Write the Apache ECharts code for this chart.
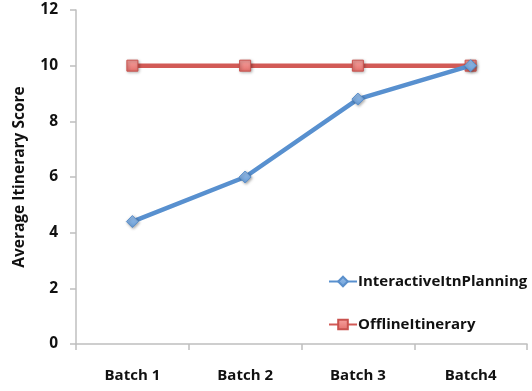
<!DOCTYPE html>
<html>
<head>
<meta charset="utf-8">
<script src="https://cdn.jsdelivr.net/npm/echarts@6/dist/echarts.min.js"></script>
<style>
  html, body { margin: 0; padding: 0; background: #fff; }
  #chart { width: 532px; height: 391px; }
</style>
</head>
<body>
<div id="chart"></div>
<script>
// Batches along the x axis
const categories = ['Batch 1', 'Batch 2', 'Batch 3', 'Batch4'];
// Average itinerary scores per batch
const interactiveScores = [4.4, 6.0, 8.8, 10.0];
const offlineScores = [10, 10, 10, 10];
// Value axis range
const yMin = 0, yMax = 12, yStep = 2;

const FONT = '"Open Sans", "DejaVu Sans", sans-serif';
const axisGray = '#bfbfbf';
const blue = '#5890cf';
const red = '#d25a56';

const chart = echarts.init(document.getElementById('chart'), null, { renderer: 'canvas' });

const markerShadow = {
  shadowBlur: 3,
  shadowColor: 'rgba(0,0,0,0.35)',
  shadowOffsetX: 1,
  shadowOffsetY: 1
};

chart.setOption({
  animation: false,
  backgroundColor: '#fff',
  grid: { left: 76, right: 5, top: 10, bottom: 47, containLabel: false },
  legend: {
    orient: 'vertical',
    left: 323,
    top: 269,
    itemWidth: 28,
    itemHeight: 12,
    itemGap: 28,
    textStyle: { fontFamily: FONT, fontWeight: 'bold', fontSize: 15, color: '#111', padding: [0, 0, 0, -4] },
    data: ['InteractiveItnPlanning', 'OfflineItinerary']
  },
  xAxis: {
    type: 'category',
    data: categories,
    boundaryGap: true,
    axisLine: { lineStyle: { color: axisGray, width: 1.5 } },
    axisTick: { show: true, length: 6, lineStyle: { color: axisGray, width: 1.5 } },
    axisLabel: { fontFamily: FONT, fontWeight: 'bold', fontSize: 15, color: '#111', margin: 24 }
  },
  yAxis: {
    type: 'value',
    min: yMin,
    max: yMax,
    interval: yStep,
    name: 'Average Itinerary Score',
    nameLocation: 'middle',
    nameGap: 48,
    nameTextStyle: { fontFamily: FONT, fontWeight: 'bold', fontSize: 15.5, color: '#111' },
    axisLine: { show: true, lineStyle: { color: axisGray, width: 1.5 } },
    axisTick: { show: true, length: 6, lineStyle: { color: axisGray, width: 1.5 } },
    splitLine: { show: false },
    axisLabel: { fontFamily: FONT, fontWeight: 'bold', fontSize: 15.5, color: '#111', margin: 18 }
  },
  series: [
    {
      name: 'InteractiveItnPlanning',
      type: 'line',
      data: interactiveScores,
      symbol: 'diamond',
      symbolSize: 12,
      z: 3,
      lineStyle: { color: blue, width: 4.5 },
      itemStyle: Object.assign({
        color: new echarts.graphic.LinearGradient(0, 0, 0, 1, [
          { offset: 0, color: '#9cc0ea' },
          { offset: 1, color: '#6a9fd8' }
        ]),
        borderColor: '#5a8fcb',
        borderWidth: 1
      }, markerShadow)
    },
    {
      name: 'OfflineItinerary',
      type: 'line',
      data: offlineScores,
      symbol: 'rect',
      symbolSize: 11,
      z: 2,
      lineStyle: { color: red, width: 4.5 },
      itemStyle: Object.assign({
        color: new echarts.graphic.LinearGradient(0, 0, 0, 1, [
          { offset: 0, color: '#f6a3a0' },
          { offset: 1, color: '#e4706c' }
        ]),
        borderColor: '#c9524e',
        borderWidth: 1
      }, markerShadow)
    }
  ]
});
</script>
</body>
</html>
